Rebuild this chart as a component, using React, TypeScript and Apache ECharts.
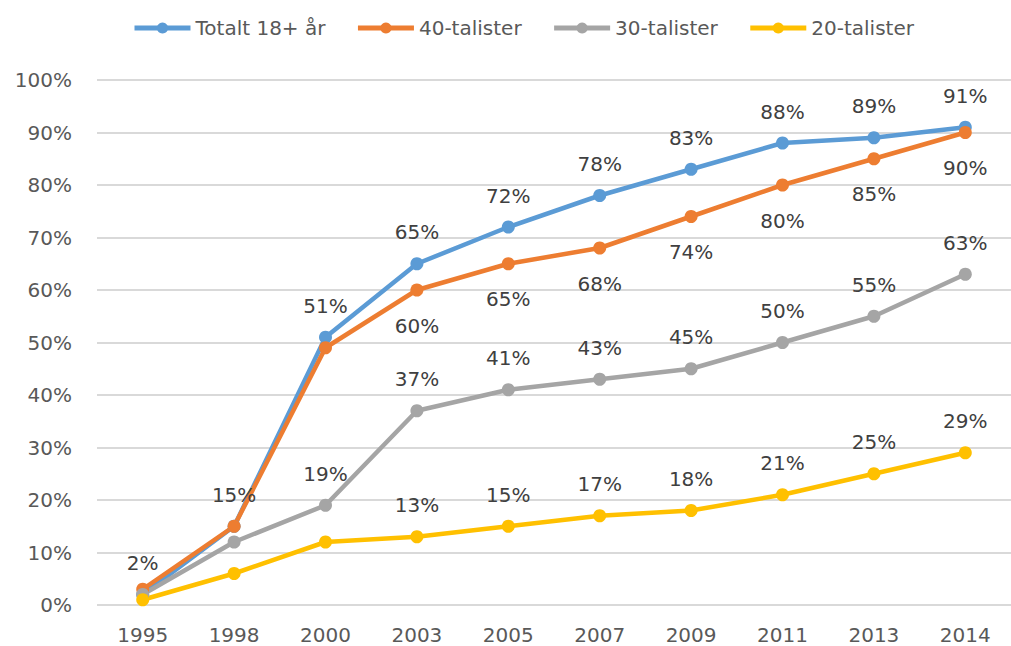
import React, { useEffect, useRef } from "react";
import * as echarts from "echarts";

const years = ["1995", "1998", "2000", "2003", "2005", "2007", "2009", "2011", "2013", "2014"];
const totalt = [2, 15, 51, 65, 72, 78, 83, 88, 89, 91];
const fyrtio = [3, 15, 49, 60, 65, 68, 74, 80, 85, 90];
const trettio = [2, 12, 19, 37, 41, 43, 45, 50, 55, 63];
const tjugo = [1, 6, 12, 13, 15, 17, 18, 21, 25, 29];
const seriesNames = ["Totalt 18+ år", "40-talister", "30-talister", "20-talister"];
const colors = ["#5B9BD5", "#ED7D31", "#A5A5A5", "#FFC000"];
// first category index from which each series shows value labels
const labelFrom = [0, 3, 2, 3];
const labelPos = ["top", "bottom", "top", "top"];

const FONT = "DejaVu Sans";

export default function App() {
  const ref = useRef<HTMLDivElement>(null);
  useEffect(() => {
    if (!ref.current) return;
    const chart = echarts.init(ref.current, undefined, { renderer: "svg" });
    const all = [totalt, fyrtio, trettio, tjugo];
    const series = all.map((vals, si) => ({
      name: seriesNames[si],
      type: "line",
      symbol: "circle",
      symbolSize: 13,
      lineStyle: { width: 4.5, color: colors[si] },
      itemStyle: { color: colors[si] },
      label: {
        show: true,
        position: labelPos[si],
        distance: labelPos[si] === "top" ? 15 : 19,
        formatter: "{c}%",
        color: "#404040",
        fontSize: 20,
        fontFamily: FONT,
      },
      data: vals.map((v, i) => ({
        value: v,
        label: { show: i >= labelFrom[si] },
      })),
    }));
    chart.setOption({
      animation: false,
      color: colors,
      textStyle: { fontFamily: FONT },
      legend: {
        top: 13,
        left: 127,
        itemWidth: 56,
        itemHeight: 14,
        itemGap: 30,
        lineStyle: { width: 5 },
        textStyle: { fontSize: 20, color: "#595959", fontFamily: FONT },
        data: seriesNames.map((n) => ({ name: n })),
      },
      grid: { left: 97, top: 80, bottom: 41, width: 920 },
      xAxis: {
        type: "category",
        data: years,
        boundaryGap: true,
        axisLine: { show: false },
        axisTick: { show: false },
        axisLabel: { color: "#595959", fontSize: 20, fontFamily: FONT, margin: 20 },
      },
      yAxis: {
        type: "value",
        min: 0,
        max: 100,
        interval: 10,
        axisLine: { show: false },
        axisTick: { show: false },
        splitLine: { lineStyle: { color: "#D9D9D9", width: 2 } },
        axisLabel: { color: "#595959", fontSize: 20, fontFamily: FONT, margin: 25, formatter: "{value}%" },
      },
      series,
    });
    return () => chart.dispose();
  }, []);
  return (
    <div
      ref={ref}
      style={{ position: "absolute", left: 0, top: 0, width: 1011, height: 646, background: "#fff" }}
    />
  );
}
